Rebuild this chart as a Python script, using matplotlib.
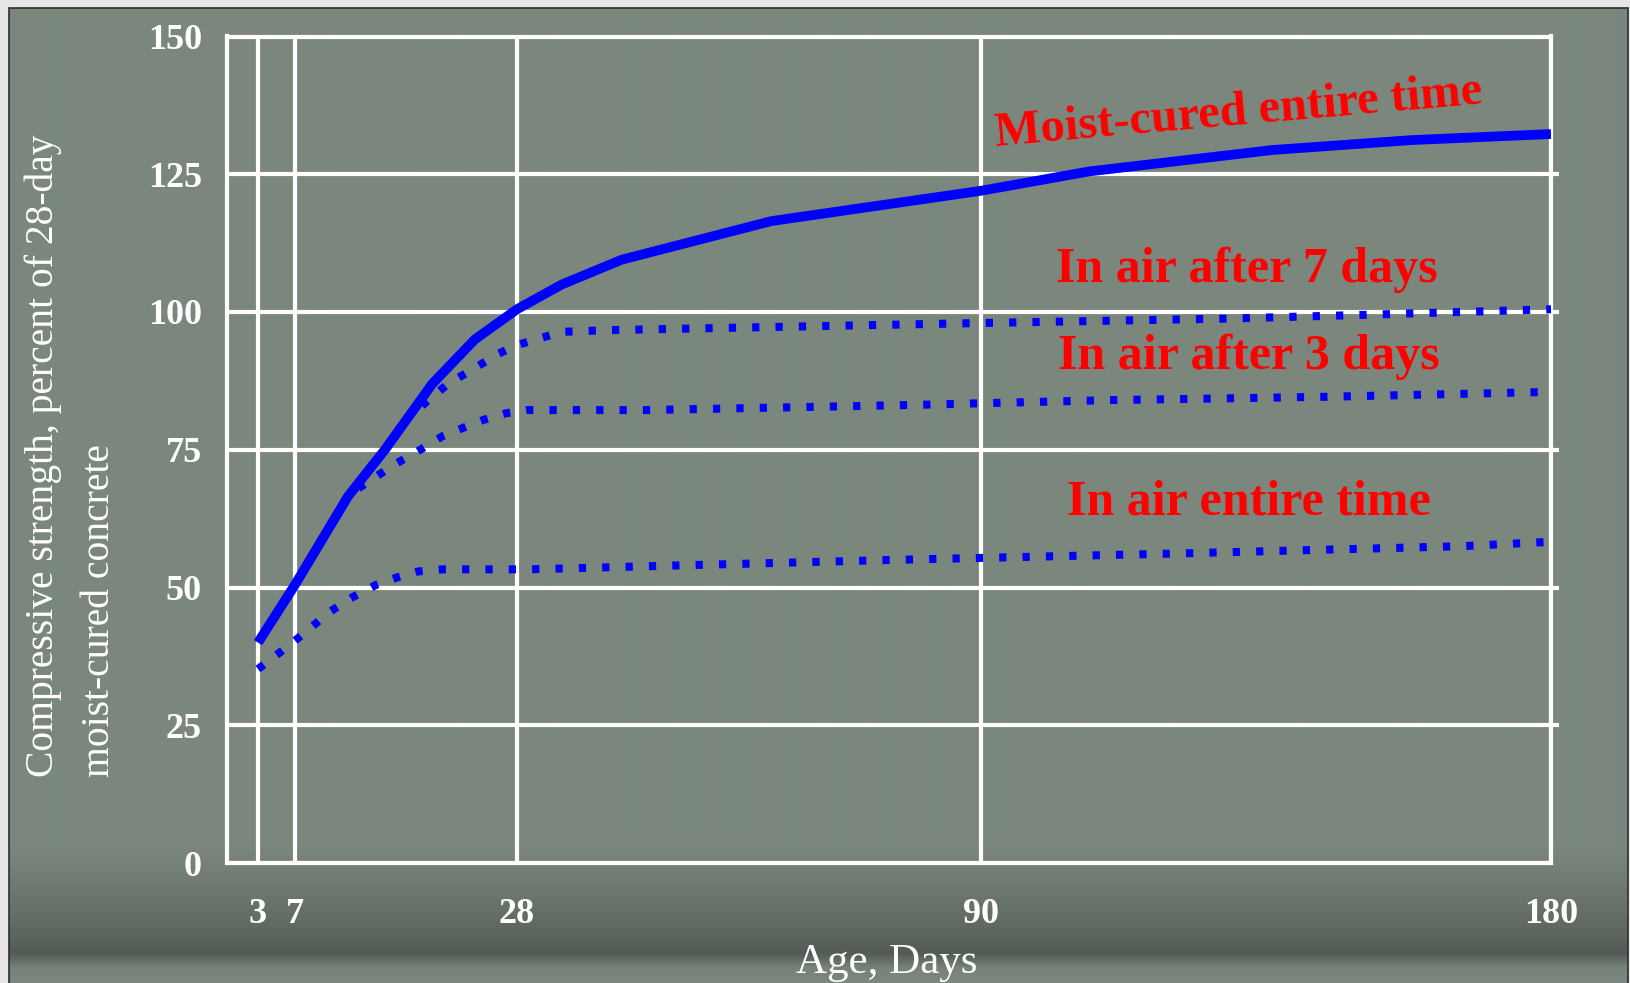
import numpy as np
import matplotlib.pyplot as plt
from matplotlib.patches import Rectangle

# strength of concrete vs. age, percent of 28-day moist-cured strength
moist_days = [3, 7, 12, 15.5, 20, 24, 28, 34, 42, 62, 90, 107, 136, 158, 180]
moist_vals = [40, 50.5, 66.5, 75, 87, 95, 100.5, 105, 109.5, 116.5, 122, 125.5, 129.4, 131.2, 132.3]

air7_days = [19, 21.5, 24, 26, 28, 31, 34, 40, 90, 129, 151, 180]
air7_vals = [83, 87, 89.8, 92.2, 94, 95.2, 96.4, 96.7, 98, 98.8, 99.5, 100.5]

air3_days = [13, 16.3, 18.5, 20.9, 22.8, 24.8, 26.9, 29.3, 33, 45, 80, 110, 144, 180]
air3_vals = [68, 72.2, 74.6, 77.4, 78.9, 80.4, 81.6, 82.2, 82.2, 82.2, 83.1, 84.0, 84.6, 85.5]

airall_days = [3, 6.3, 8.3, 10.3, 12.5, 14.7, 16.6, 18.6, 21, 29.7, 78, 122, 166, 180]
airall_vals = [35.2, 39.4, 42.4, 45.6, 48.3, 50.5, 51.8, 52.9, 53.3, 53.3, 55.0, 56.2, 57.5, 58.3]

x_ticks = [3, 7, 28, 90, 180]
y_ticks = [0, 25, 50, 75, 100, 125, 150]

# the day axis is stretched unevenly: where each day mark sits along it
day_marks = [0, 3, 7, 28, 90, 180]
day_pos = [0, 31, 68, 290, 754, 1324]


def fwd(x):
    return np.interp(x, day_marks, day_pos)


def inv(p):
    return np.interp(p, day_pos, day_marks)


W, H = 1631, 983
BLUE = '#0000ff'
RED = '#ff0000'
SERIF = 'Liberation Serif'

fig = plt.figure(figsize=(W / 100, H / 100), dpi=100)
fig.patch.set_facecolor('#e6e6e6')

# slide panel with the darker band near the bottom
bg = fig.add_axes([9 / W, 0, (1628 - 9) / W, (H - 8) / H])
rows = np.arange(8, H)
stop_y = [8, 845, 890, 930, 953, 967, 983]
stop_c = np.array([[123, 135, 125], [123, 135, 125], [109, 120, 111], [94, 104, 95],
                   [83, 91, 84], [118, 130, 120], [125, 137, 128]]) / 255
grad = np.stack([np.interp(rows, stop_y, stop_c[:, k]) for k in range(3)], axis=-1)
bg.imshow(grad[:, None, :], aspect='auto', interpolation='bilinear')
bg.axis('off')
fig.add_artist(Rectangle((9 / W, -0.01), (1628 - 9) / W, (H - 8) / H + 0.01,
                         transform=fig.transFigure, fill=False, ec='#2e2e2e', lw=1.2))

ax = fig.add_axes([227 / W, (H - 863) / H, 1324 / W, (863 - 36.5) / H])
ax.set_facecolor('none')
ax.set_xscale('function', functions=(fwd, inv))
ax.set_xlim(0, 180)
ax.set_ylim(0, 150)
ax.set_xticks(x_ticks)
ax.set_yticks(y_ticks)
ax.set_axisbelow(True)
ax.grid(True, color='white', lw=3)
for sp in ax.spines.values():
    sp.set_color('white')
    sp.set_linewidth(3)

ax.tick_params(axis='x', length=0, pad=25, labelcolor='white')
# short stubs of the grid poking out past the right edge
ax.tick_params(axis='y', left=False, right=True, length=6, width=3, color='white',
               pad=12, labelcolor='white')
yt = ax.yaxis.get_major_ticks()
yt[0].tick2line.set_visible(False)
yt[-1].tick2line.set_visible(False)
for lab in ax.get_xticklabels() + ax.get_yticklabels():
    lab.set_fontfamily(SERIF)
    lab.set_fontweight('bold')
    lab.set_fontsize(26)

ax.plot(moist_days, moist_vals, color=BLUE, lw=7, solid_capstyle='butt', zorder=4)
dots = (0, (0.9, 2.0))
for d, v in [(air7_days, air7_vals), (air3_days, air3_vals), (airall_days, airall_vals)]:
    ax.plot(d, v, color=BLUE, lw=5.8, linestyle=dots, dash_capstyle='butt', zorder=3)

lab_kw = dict(color=RED, fontfamily=SERIF, fontweight='bold',
              ha='center', va='baseline', rotation_mode='anchor')
ax.text(130.8, 134, 'Moist-cured entire time', rotation=5, fontsize=35, **lab_kw)
ax.text(132, 105.5, 'In air after 7 days', fontsize=36, **lab_kw)
ax.text(132.3, 89.65, 'In air after 3 days', fontsize=36, **lab_kw)
ax.text(132.3, 63.2, 'In air entire time', fontsize=36, **lab_kw)

# axis titles
title_kw = dict(rotation=90, rotation_mode='anchor', ha='left', va='baseline',
                color='white', fontfamily=SERIF, fontsize=28.5)
fig.text(53 / W, (H - 777) / H, 'Compressive strength, percent of 28-day', **title_kw)
fig.text(109 / W, (H - 777) / H, 'moist-cured concrete', **title_kw)
fig.text(887 / W, (H - 973) / H, 'Age, Days', ha='center', va='baseline',
         color='white', fontfamily=SERIF, fontsize=31)

fig.savefig('out.png', dpi=100)
